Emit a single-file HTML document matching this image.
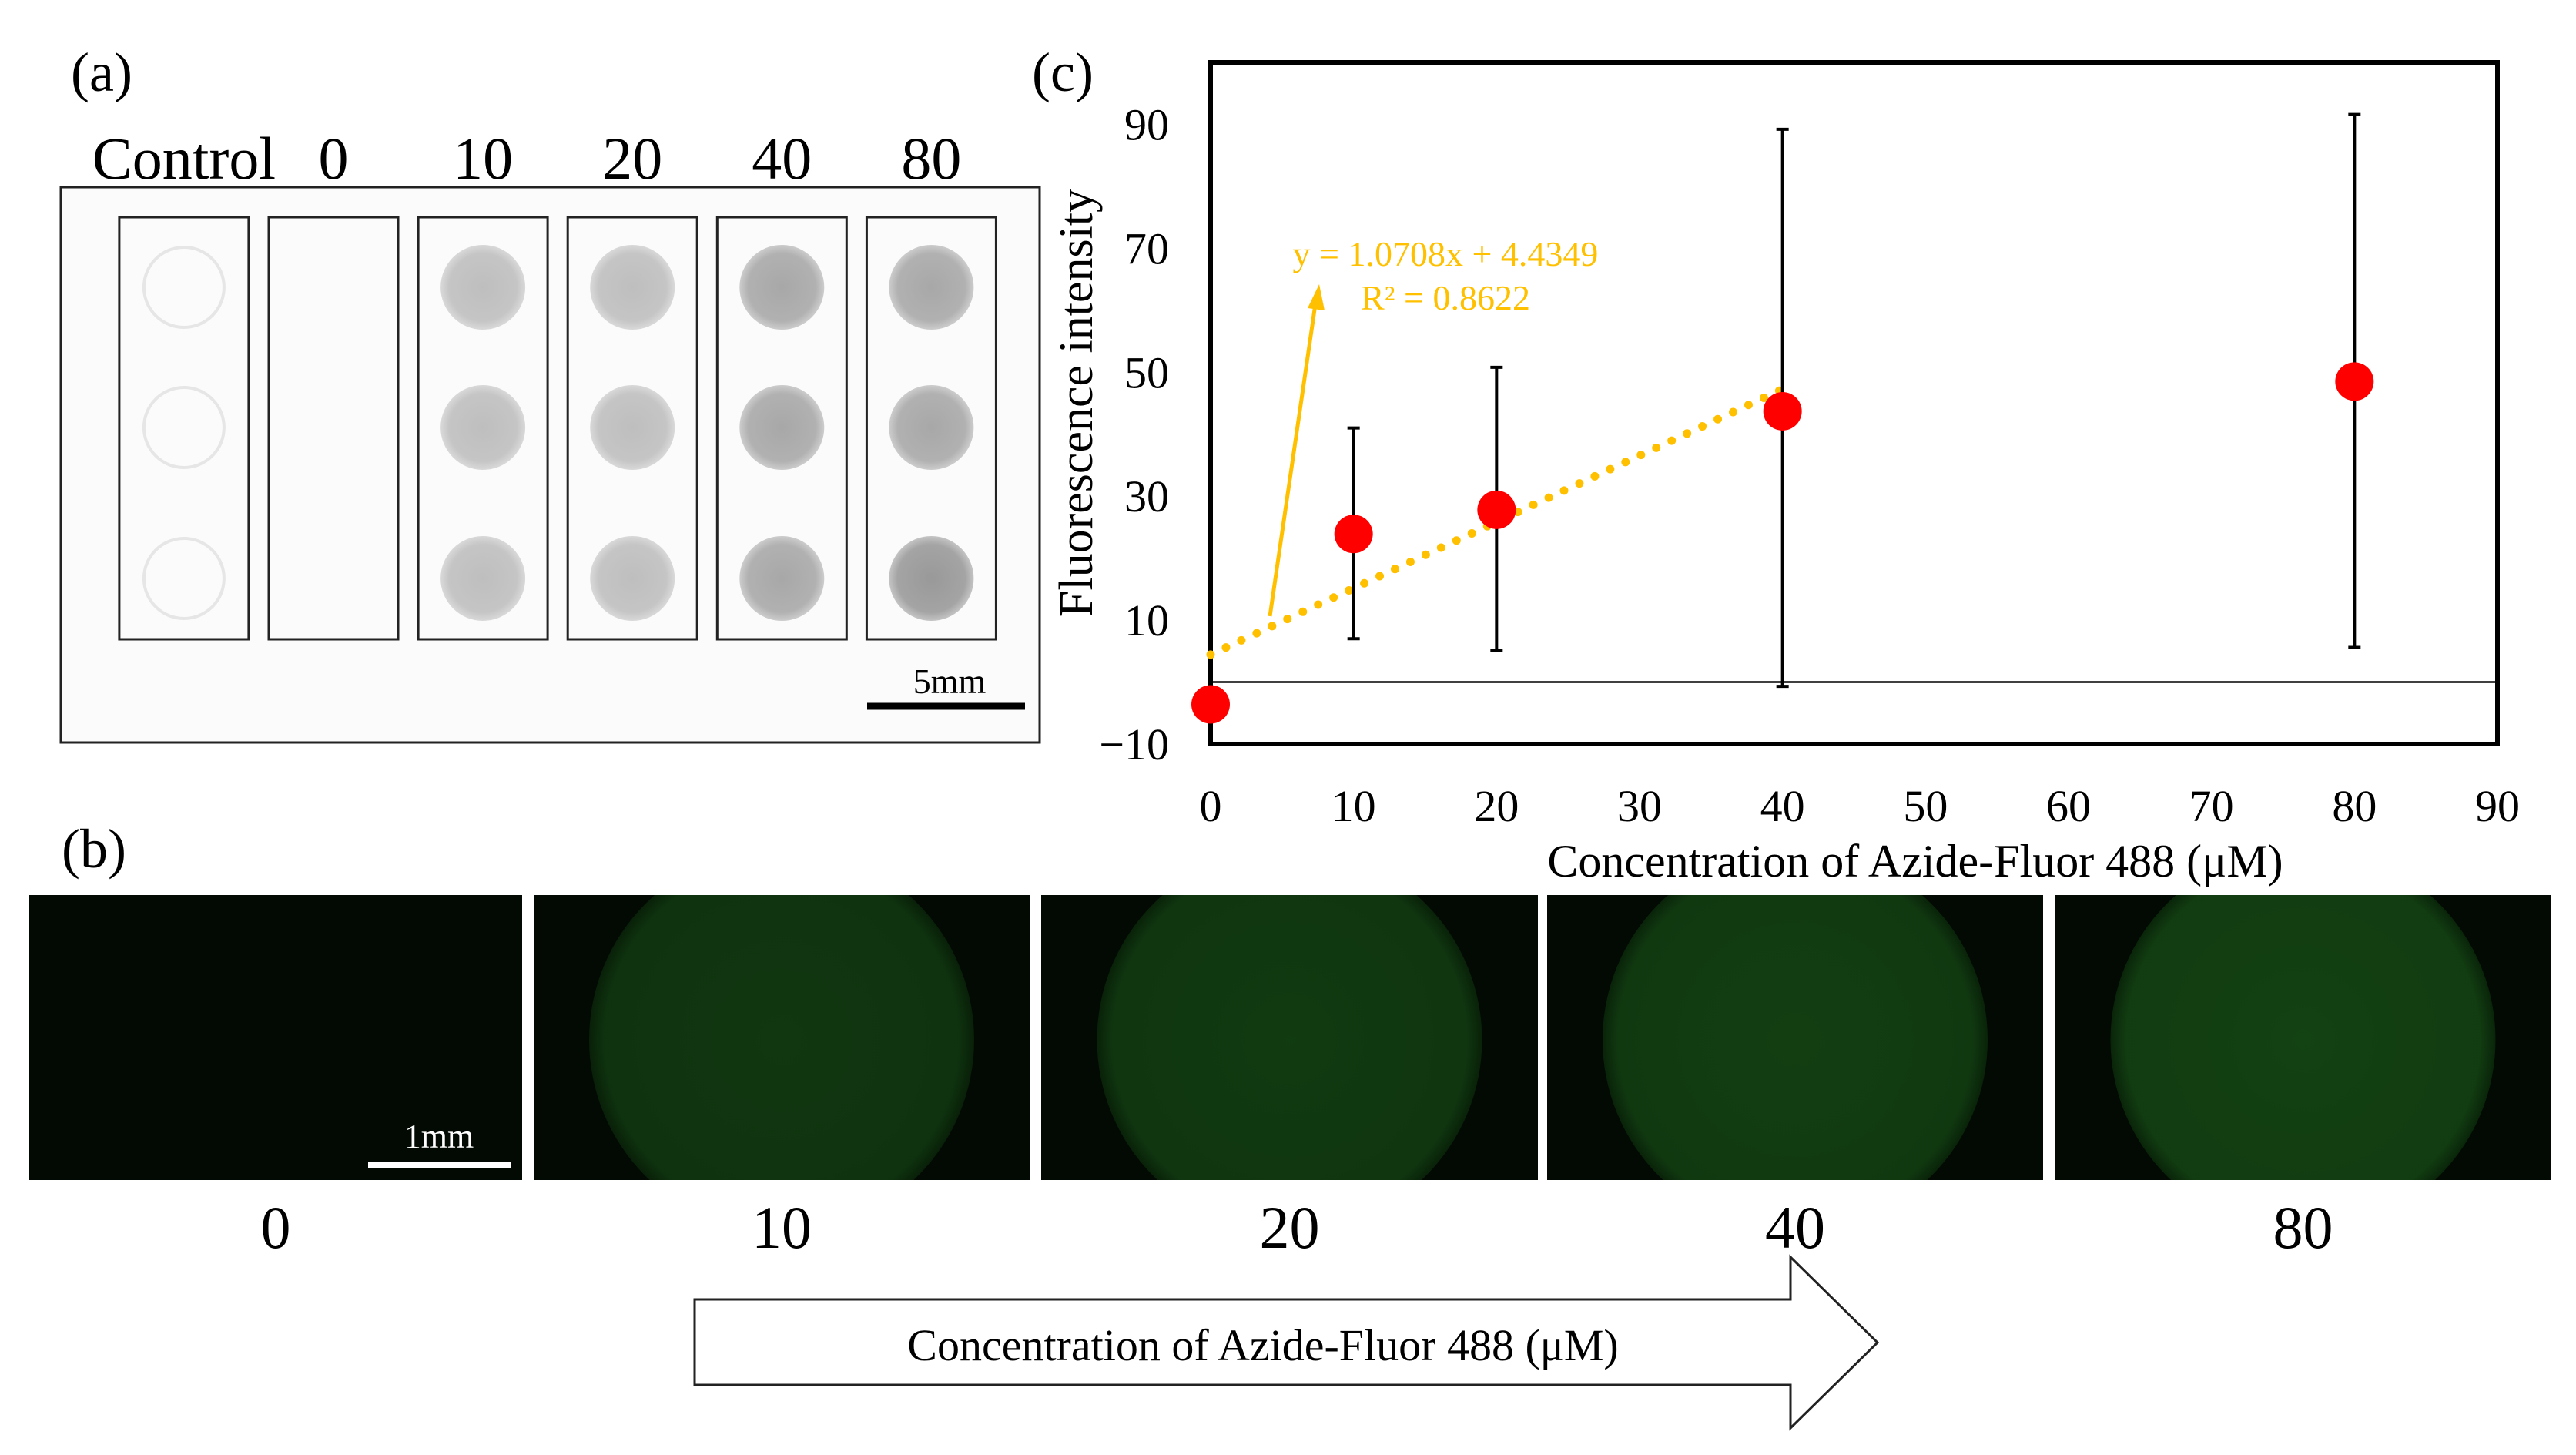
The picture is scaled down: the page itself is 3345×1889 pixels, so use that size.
<!DOCTYPE html>
<html><head><meta charset="utf-8"><style>
html,body{margin:0;padding:0;background:#fff;}
svg text{font-family:"Liberation Serif","DejaVu Serif",serif;}
</style></head><body>
<svg id="fig" width="3345" height="1884" viewBox="0 0 3345 1884" xmlns="http://www.w3.org/2000/svg">
<defs>
<radialGradient id="gdot" cx="50%" cy="50%" r="50%"><stop offset="0" stop-color="#999"/><stop offset="0.8" stop-color="#a4a4a4"/><stop offset="1" stop-color="#c4c4c4"/></radialGradient>
<radialGradient id="ggreen" cx="50%" cy="50%" r="50%"><stop offset="0" stop-color="#144414"/><stop offset="0.92" stop-color="#123e12"/><stop offset="1" stop-color="#0a260a"/></radialGradient>
</defs>
<g>
<text x="132" y="118" font-size="72" text-anchor="middle">(a)</text>
<rect x="79" y="243" width="1271" height="721" fill="#fbfbfb" stroke="#222" stroke-width="3"/>
<g id="acols"></g>
<line x1="1126" y1="917" x2="1331" y2="917" stroke="#000" stroke-width="9"/>
<text x="1233" y="900" font-size="46" text-anchor="middle">5mm</text>
</g>
<g>
<text x="122" y="1126" font-size="72" text-anchor="middle">(b)</text>
<g id="bimgs"></g>
<line x1="478" y1="1512" x2="663" y2="1512" stroke="#fff" stroke-width="8"/>
<text x="570" y="1490" font-size="44" fill="#fff" text-anchor="middle">1mm</text>
<polygon points="902,1687 2325,1687 2325,1632 2438,1743 2325,1854 2325,1798 902,1798" fill="#fff" stroke="#222" stroke-width="3"/>
<text x="1640" y="1766" font-size="58" text-anchor="middle">Concentration of Azide-Fluor 488 (μM)</text>
</g>
<g id="chart">
<text x="1380" y="118" font-size="72" text-anchor="middle">(c)</text>
</g>
</svg>
<script>
const NS='http://www.w3.org/2000/svg';
function mk(tag,attrs,parent,txt){const e=document.createElementNS(NS,tag);for(const k in attrs)e.setAttribute(k,attrs[k]);if(txt!==undefined)e.textContent=txt;parent.appendChild(e);return e;}
const aLabels=['Control','0','10','20','40','80'];
const aShade=['c','n','g','g','d','d'];
const acols=document.getElementById('acols');
const fig=document.getElementById('fig');
aLabels.forEach((l,i)=>{
  const cx=[112,203,294,385,476,567][i]*2.133;
  const r=mk('rect',{x:cx-84,y:282,width:168,height:548,fill:'none',stroke:'#222','stroke-width':3},acols);
  
  
  const t=mk('text',{x:cx,y:232,'font-size':78,'text-anchor':'middle'},fig,l);
  
  
  [373,555,751].forEach((cy,j)=>{
    let c;
    if(aShade[i]==='c') c=mk('circle',{cx:cx,cy:cy,r:52,fill:'none',stroke:'#e6e6e6','stroke-width':4},acols);
    else if(aShade[i]==='n') return;
    else c=mk('circle',{cx:cx,cy:cy,r:55,fill:'url(#gdot)',opacity:aShade[i]==='d'?(j===2&&i===5?1:0.85):0.62},acols);
    
    
  });
});
const bLabels=['0','10','20','40','80'];
const bX=[[38,678],[693,1337],[1352,1997],[2009,2653],[2668,3313]];
const bimgs=document.getElementById('bimgs');
bLabels.forEach((l,i)=>{
  const [x0,x1]=bX[i];
  const g=mk('g',{},bimgs);
  
  
  mk('rect',{x:x0,y:1162,width:x1-x0,height:370,fill:'#030a03'},g);
  const cp='cp'+i;
  const c=mk('clipPath',{id:cp},g);mk('rect',{x:x0,y:1162,width:x1-x0,height:370},c);
  if(i>0) mk('circle',{cx:(x0+x1)/2,cy:1350,r:250,fill:'url(#ggreen)','clip-path':'url(#'+cp+')',opacity:0.72+i*0.06},g);
  const t=mk('text',{x:(x0+x1)/2,y:1620,'font-size':78,'text-anchor':'middle'},fig,l);
  
  
});
const xVals=[0,10,20,40,80];
const yMeans=[-3.6,23.9,27.8,43.7,48.5];
const yLow=[null,7,5.1,-0.7,5.6];
const yHigh=[null,41,50.8,89.2,91.6];
const xTicks=[0,10,20,30,40,50,60,70,80,90];
const yTicks=[-10,10,30,50,70,90];
const slope=1.0708, intercept=4.4349;
const X0=1572,X1=3243,Y0=966,Y1=81;
const xs=v=>X0+(v-0)/(90-0)*(X1-X0);
const ys=v=>Y0-(v+10)/(110)*(Y0-Y1);
const ch=document.getElementById('chart');
let e=mk('rect',{x:X0,y:Y1,width:X1-X0,height:Y0-Y1,fill:'none',stroke:'#000','stroke-width':6},ch);

e=mk('line',{x1:X0,y1:ys(0),x2:X1,y2:ys(0),stroke:'#000','stroke-width':2.5},ch);

xTicks.forEach(v=>{const t=mk('text',{x:xs(v),y:1066,'font-size':58,'text-anchor':'middle'},ch,String(v));
});
yTicks.forEach(v=>{const t=mk('text',{x:1518,y:ys(v)+20,'font-size':58,'text-anchor':'end'},ch,v<0?'\u2212'+(-v):String(v));
});
e=mk('text',{x:2487,y:1138,'font-size':60,'text-anchor':'middle'},ch,'Concentration of Azide-Fluor 488 (μM)');

e=mk('text',{x:0,y:0,'font-size':62,'text-anchor':'middle',transform:'translate(1418,523) rotate(-90)'},ch,'Fluorescence intensity');

e=mk('line',{x1:xs(0),y1:ys(intercept),x2:xs(40),y2:ys(slope*40+intercept),stroke:'#ffc000','stroke-width':11,'stroke-dasharray':'0 22','stroke-linecap':'round'},ch);

xVals.forEach((x,i)=>{
  if(yLow[i]===null) return;
  const g=mk('g',{stroke:'#000','stroke-width':4},ch);
  
  mk('line',{x1:xs(x),y1:ys(yLow[i]),x2:xs(x),y2:ys(yHigh[i])},g);
  mk('line',{x1:xs(x)-8,y1:ys(yLow[i]),x2:xs(x)+8,y2:ys(yLow[i])},g);
  mk('line',{x1:xs(x)-8,y1:ys(yHigh[i]),x2:xs(x)+8,y2:ys(yHigh[i])},g);
});
xVals.forEach((x,i)=>{
  const c=mk('ellipse',{cx:xs(x),cy:ys(yMeans[i]),rx:25,ry:25,fill:'#ff0000'},ch);
  
});
e=mk('line',{x1:1649,y1:800,x2:1708,y2:395,stroke:'#ffc000','stroke-width':5},ch);

e=mk('polygon',{points:'1713,369 1698,400 1720,403',fill:'#ffc000'},ch);

e=mk('text',{x:1877,y:345,'font-size':46,fill:'#ffc000','text-anchor':'middle'},ch,'y = '+slope+'x + '+intercept);

e=mk('text',{x:1877,y:402,'font-size':46,fill:'#ffc000','text-anchor':'middle'},ch,'R² = 0.8622');

</script>
</body></html>
